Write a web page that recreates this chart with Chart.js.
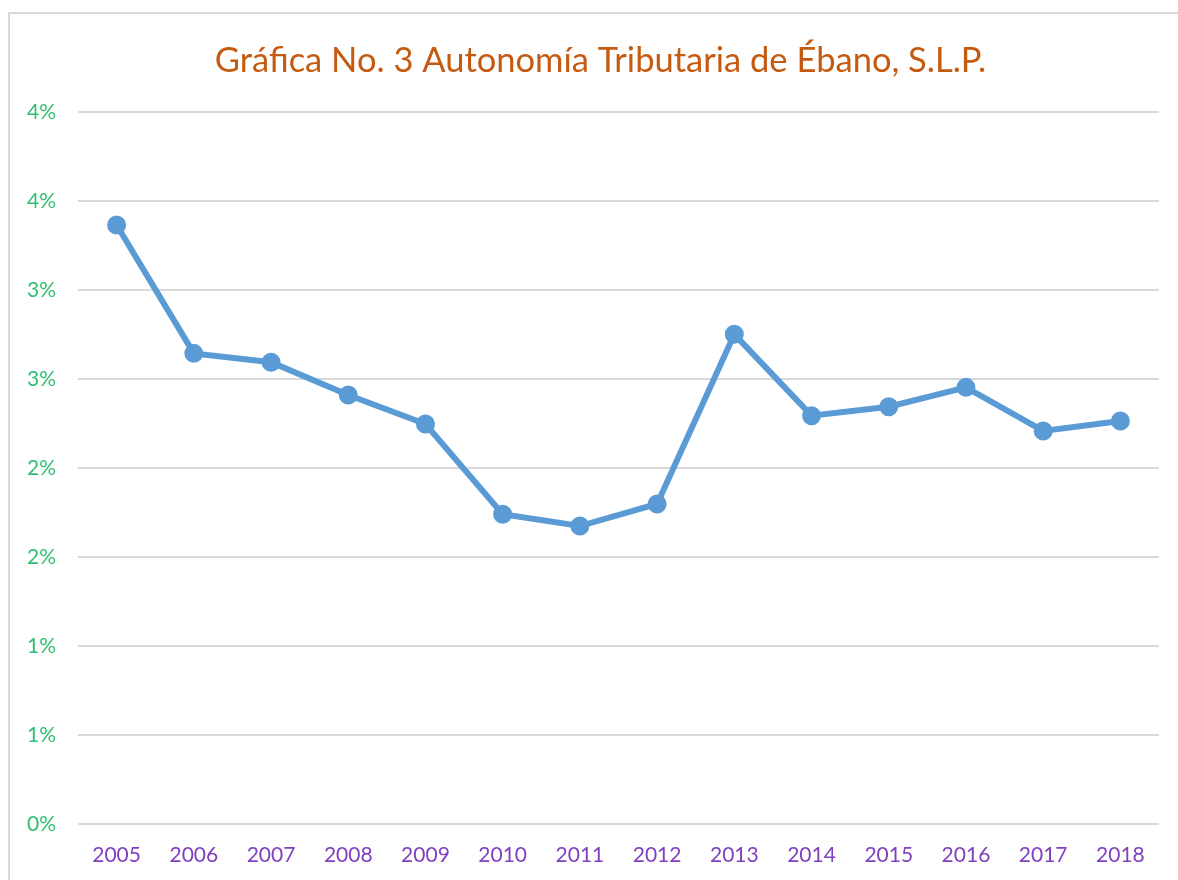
<!DOCTYPE html>
<html>
<head>
<meta charset="utf-8">
<script src="https://cdn.jsdelivr.net/npm/chart.js@4"></script>
<style>
  html, body { margin: 0; padding: 0; background: #fff; overflow: hidden; }
  #wrap { position: relative; width: 1178px; height: 880px; }
  #frame { position: absolute; left: 8px; top: 12px; width: 1300px; height: 1000px;
           border-left: 2px solid #d9d9d9; border-top: 2px solid #d9d9d9; pointer-events: none; }
  canvas { position: absolute; left: 0; top: 0; }
</style>
</head>
<body>
<div id="wrap">
  <canvas id="c" width="1178" height="880"></canvas>
  <div id="frame"></div>
</div>
<script>
const titleText = 'Gráfica No. 3 Autonomía Tributaria de Ébano, S.L.P.';
const years = ['2005','2006','2007','2008','2009','2010','2011','2012','2013','2014','2015','2016','2017','2018'];
const autonomia = [3.365, 2.644, 2.594, 2.410, 2.247, 1.740, 1.674, 1.798, 2.751, 2.294, 2.344, 2.453, 2.208, 2.264];
const yTickLabels = ['0%','1%','1%','2%','2%','3%','3%','4%','4%'];

const FONT = 'Lato, "Open Sans", sans-serif';

// Centre the title over the framed chart box rather than the whole canvas
const shiftTitle = {
  id: 'shiftTitle',
  afterLayout(chart) {
    if (chart.titleBlock) { chart.titleBlock.left = 42; }
  }
};

new Chart(document.getElementById('c'), {
  type: 'line',
  data: {
    labels: years,
    datasets: [{
      data: autonomia,
      borderColor: '#5b9bd5',
      backgroundColor: '#5b9bd5',
      borderWidth: 6,
      pointRadius: 6.5,
      pointHoverRadius: 6.5,
      pointBackgroundColor: '#5b9bd5',
      pointBorderColor: '#5b9bd5',
      tension: 0,
      fill: false
    }]
  },
  options: {
    responsive: false,
    animation: false,
    devicePixelRatio: 1,
    layout: { padding: { left: 0, right: 19, top: 0, bottom: 0 } },
    plugins: {
      legend: { display: false },
      tooltip: { enabled: false },
      title: {
        display: true,
        text: titleText,
        color: '#c55a11',
        font: { family: FONT, size: 34.5, weight: 'normal' },
        padding: { top: 40, bottom: 30.6 }
      }
    },
    scales: {
      x: {
        offset: true,
        grid: { display: false, drawTicks: false },
        border: { display: false },
        ticks: { color: '#7f3fbf', font: { family: FONT, size: 21 }, padding: 19, maxRotation: 0, autoSkip: false },
        afterFit: (s) => { s.height = 56; }
      },
      y: {
        min: 0, max: 4,
        grid: { color: '#d9d9d9', lineWidth: 2, drawTicks: false },
        border: { display: false },
        ticks: {
          stepSize: 0.5,
          color: '#2fbf71',
          font: { family: FONT, size: 21 },
          padding: 22,
          callback: (v, i) => yTickLabels[i]
        },
        afterFit: (s) => { s.width = 78; }
      }
    }
  },
  plugins: [shiftTitle]
});
</script>
</body>
</html>
